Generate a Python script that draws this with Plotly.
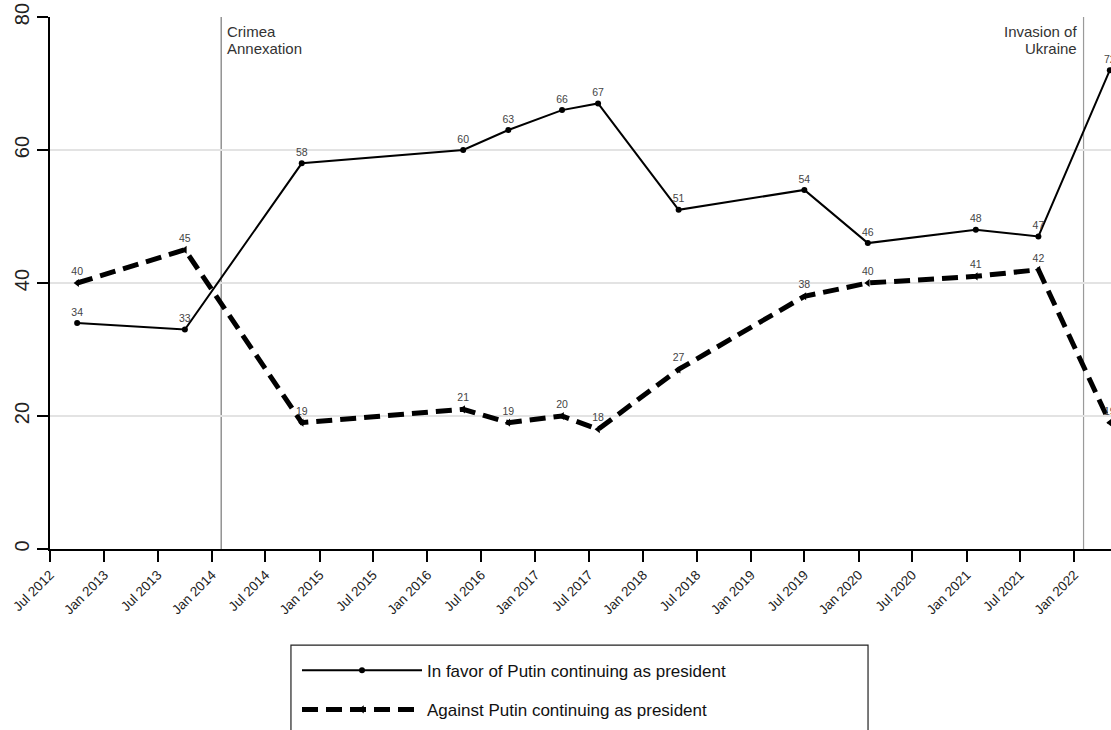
import plotly.graph_objects as go

# ---- data ----
survey_dates = ["2012-10-01", "2013-10-01", "2014-11-01", "2016-05-01", "2016-10-01",
                "2017-04-01", "2017-08-01", "2018-05-01", "2019-07-01", "2020-02-01",
                "2021-02-01", "2021-09-01", "2022-05-01"]
favor = [34, 33, 58, 60, 63, 66, 67, 51, 54, 46, 48, 47, 72]
against = [40, 45, 19, 21, 19, 20, 18, 27, 38, 40, 41, 42, 19]

tick_dates = ["2012-07-01", "2013-01-01", "2013-07-01", "2014-01-01", "2014-07-01",
              "2015-01-01", "2015-07-01", "2016-01-01", "2016-07-01", "2017-01-01",
              "2017-07-01", "2018-01-01", "2018-07-01", "2019-01-01", "2019-07-01",
              "2020-01-01", "2020-07-01", "2021-01-01", "2021-07-01", "2022-01-01"]
tick_labels = ["Jul 2012", "Jan 2013", "Jul 2013", "Jan 2014", "Jul 2014",
               "Jan 2015", "Jul 2015", "Jan 2016", "Jul 2016", "Jan 2017",
               "Jul 2017", "Jan 2018", "Jul 2018", "Jan 2019", "Jul 2019",
               "Jan 2020", "Jul 2020", "Jan 2021", "Jul 2021", "Jan 2022"]

event_dates = ["2014-02-01", "2022-02-01"]
event_lines = [["Crimea", "Annexation"], ["Invasion of", "Ukraine"]]

y_ticks = [0, 20, 40, 60, 80]

FONT = "Liberation Sans, Arial, sans-serif"

fig = go.Figure()

fig.add_trace(go.Scatter(
    x=survey_dates, y=favor, mode="lines+markers+text",
    name="In favor of Putin continuing as president",
    legendgroup="a",
    line=dict(color="black", width=2),
    marker=dict(color="black", size=6),
    text=[str(v) for v in favor], textposition="top center",
    textfont=dict(size=10.5, color="#444", family=FONT),
    cliponaxis=False,
))
fig.add_trace(go.Scatter(
    x=survey_dates, y=against, mode="lines+markers+text",
    name="Against Putin continuing as president",
    legendgroup="b",
    line=dict(color="black", width=5, dash="16px,8px"),
    marker=dict(color="black", size=7, symbol="triangle-left"),
    text=[str(v) for v in against], textposition="top center",
    textfont=dict(size=10.5, color="#444", family=FONT),
    cliponaxis=False,
))

# event lines & labels
line_colors = ["#777777", "#9a9a9a"]
for d, lines, col, side in zip(event_dates, event_lines, line_colors, ["left", "right"]):
    fig.add_shape(type="line", xref="x", yref="paper", x0=d, x1=d, y0=0, y1=1,
                  line=dict(color=col, width=1.2), layer="below")
    for i, ln in enumerate(lines):
        fig.add_annotation(x=d, y=1, xref="x", yref="paper", text=ln, showarrow=False,
                           xanchor=side, yanchor="top", align=side,
                           xshift=4 if side == "left" else -5, yshift=-4 - 16.5 * i,
                           font=dict(size=15, color="#333", family=FONT))

# legend border box
fig.add_shape(type="rect", xref="paper", yref="paper",
              x0=0.2271, x1=0.771, y0=-0.1805, y1=-0.40,
              line=dict(color="#222", width=1.2), fillcolor="rgba(0,0,0,0)")

fig.update_layout(
    width=1111, height=730,
    margin=dict(l=50, r=0, t=17, b=181),
    paper_bgcolor="white", plot_bgcolor="white",
    font=dict(family=FONT, color="#222"),
    showlegend=True,
    legend=dict(x=0.2328, y=-0.195, xanchor="left", yanchor="top",
                font=dict(size=17, color="#111", family=FONT),
                itemwidth=120, traceorder="grouped", tracegroupgap=14,
                bgcolor="rgba(0,0,0,0)", borderwidth=0),
    xaxis=dict(
        type="date", range=["2012-07-01", "2022-05-05"],
        tickmode="array", tickvals=tick_dates, ticktext=tick_labels,
        tickangle=-45, tickfont=dict(size=13.5, color="#222", family=FONT),
        ticks="outside", ticklen=11, tickwidth=1.5, tickcolor="black",
        showline=True, linecolor="black", linewidth=1.5,
        showgrid=False, zeroline=False,
    ),
    yaxis=dict(
        range=[0, 80], tickmode="array", tickvals=y_ticks,
        tickangle=-90, tickfont=dict(size=20, color="#222", family=FONT),
        ticks="outside", ticklen=11, tickwidth=1.5, tickcolor="black",
        ticklabeloverflow="allow",
        showline=True, linecolor="black", linewidth=1.5,
        showgrid=True, gridcolor="#e3e3e3", gridwidth=1.5, zeroline=False,
    ),
)

fig.write_html(
    "out.html",
    config={"displayModeBar": False},
    post_script="document.body.style.margin='0';document.body.style.overflow='hidden';",
)
